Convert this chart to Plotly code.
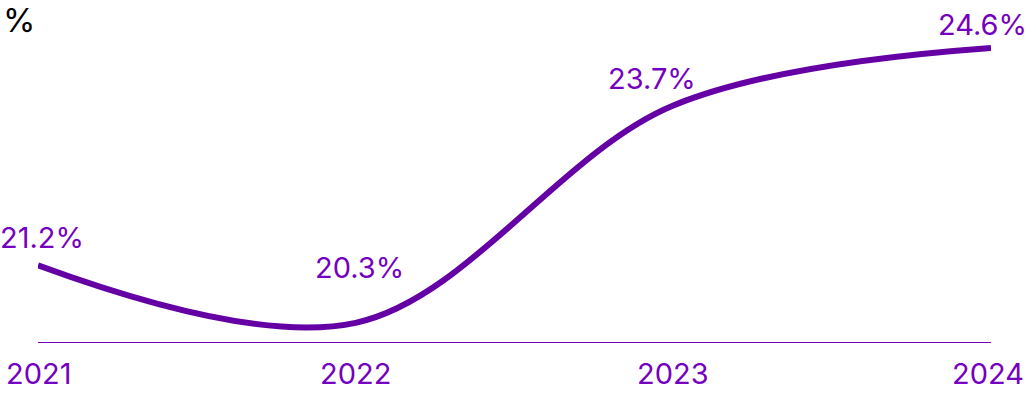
import plotly.graph_objects as go

# Yearly share values (%)
years = [2021, 2022, 2023, 2024]
values = [21.2, 20.3, 23.7, 24.6]
tick_labels = ["2021", "2022", "2023", "2024"]
value_labels = ["21.2%", "20.3%", "23.7%", "24.6%"]

# per-label nudges so text sits clear of the curve
label_xshift = [4, 4, -21, -9]
label_yshift = [8, 36, 7, 4]
# year labels: the last one is pulled in so it stays inside the page
tick_xshift = [0, 0, 0, -3]

LINE = "#6400a4"
TEXT = "#7500c0"
FONT = "Inter, Roboto, sans-serif"

fig = go.Figure()
fig.add_trace(go.Scatter(
    x=years, y=values, mode="lines",
    line=dict(color=LINE, width=6, shape="spline", smoothing=1.0),
    hoverinfo="skip", showlegend=False,
))

for x, y, t, dx, dy in zip(years, values, value_labels, label_xshift, label_yshift):
    fig.add_annotation(
        x=x, y=y, text=t, showarrow=False, xanchor="center", yanchor="bottom",
        xshift=dx, yshift=dy, font=dict(family=FONT, size=29, color=TEXT),
    )

# year labels under the baseline
for x, t, dx in zip(years, tick_labels, tick_xshift):
    fig.add_annotation(
        x=x, y=20, text=t, showarrow=False, xanchor="center", yanchor="top",
        xshift=dx, yshift=-12, font=dict(family=FONT, size=29, color=TEXT),
    )

fig.add_annotation(
    xref="paper", yref="paper", x=0, y=1, xshift=-37, yshift=2,
    xanchor="left", yanchor="top", text="%", showarrow=False,
    font=dict(family=FONT, size=33, color="#000000"),
)

fig.update_layout(
    width=1026, height=394,
    margin=dict(l=38, r=35, t=0, b=52),
    paper_bgcolor="white", plot_bgcolor="white",
    xaxis=dict(
        range=[2021, 2024], showticklabels=False,
        showgrid=False, zeroline=False, showline=True, linecolor=TEXT, linewidth=1,
        ticks="",
    ),
    yaxis=dict(range=[20, 25.35], visible=False, showgrid=False, zeroline=False),
)

fig.write_html("out.html")
